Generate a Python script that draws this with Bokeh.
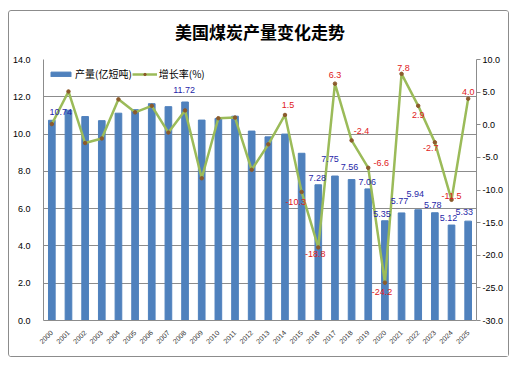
import math
from bokeh.plotting import figure
from bokeh.models import (Range1d, LinearAxis, FactorRange, ColumnDataSource, Legend,
                          LegendItem, SingleIntervalTicker, NumeralTickFormatter, Title)
from bokeh.core.properties import value
from bokeh.embed import file_html
from bokeh.resources import INLINE

years = [str(y) for y in range(2000, 2026)]
production = [10.74, 11.28, 10.94, 10.72, 11.12, 11.31, 11.63, 11.47, 11.72, 10.75,
              10.84, 10.96, 10.16, 9.85, 10.00, 8.97, 7.28, 7.75, 7.56, 7.06,
              5.35, 5.77, 5.94, 5.78, 5.12, 5.33]
growth = [0.1, 5.1, -2.8, -2.1, 3.9, 1.9, 2.9, -1.2, 2.2, -8.2,
          1.0, 1.1, -6.9, -3.0, 1.5, -10.3, -18.8, 6.3, -2.4, -6.6,
          -24.2, 7.8, 2.9, -2.7, -11.5, 4.0]
title_text = "美国煤炭产量变化走势"

# labelled points
prod_label_years = ["2000", "2008", "2016", "2017", "2018", "2019", "2020", "2021", "2022", "2023", "2024", "2025"]
growth_label_years = ["2014", "2015", "2016", "2017", "2018", "2019", "2020", "2021", "2022", "2023", "2024", "2025"]

# label placement offsets (screen px)
prod_dx = [9, -1, -1, -5, -2, -1, -3, -2, -3, -2, -3, -4]
prod_dy = [-8, -12.5, -7, -17.5, -13, -6.5, -7, -12, -16, -8, -7, -9]
growth_dx = [3, -6, -3, 0, 10, 13, -3, 2, 0, -4, 0, 0]
growth_dy = [-10, 10, 7, -9, -9, -5, 9, -6, 9, 6, -4, -7]

p = figure(x_range=FactorRange(*years, range_padding=0), y_range=Range1d(0, 14),
           frame_width=433, frame_height=261,
           min_border_left=31, min_border_right=32, min_border_top=48, min_border_bottom=36,
           output_backend="svg", toolbar_location=None, tools="")
p.margin = (10, 0, 0, 8)
p.styles = {"border": "1px solid #8c8c8c", "border-radius": "3px"}
p.outline_line_color = None
p.background_fill_color = "white"

p.title.text = title_text
p.title.align = "center"
p.title.offset = 3
p.title.text_font = "Noto Sans CJK SC"
p.title.text_font_size = "17px"
p.title.text_font_style = "bold"
p.title.text_color = "black"
# spacer between the frame and the title
p.add_layout(Title(text=" ", text_font_size="8px", standoff=0), "above")

p.extra_y_ranges = {"rate": Range1d(-30, 10)}

src = ColumnDataSource(dict(year=years, prod=production, rate=growth))
bars = p.vbar(x="year", top="prod", width=0.4, source=src, color="#4F81BD")
line = p.line(x="year", y="rate", source=src, y_range_name="rate",
              line_color="#9BBB59", line_width=2.5)
pts = p.scatter(x="year", y="rate", source=src, y_range_name="rate",
                size=3.5, marker="circle", fill_color="#8B5A2B", line_color="#8B5A2B")

# data labels
pl_vals = [production[years.index(y)] for y in prod_label_years]
gl_vals = [growth[years.index(y)] for y in growth_label_years]
p.text(x=prod_label_years, y=pl_vals, text=["%.2f" % v for v in pl_vals],
       x_offset=prod_dx, y_offset=prod_dy, text_align="center", text_baseline="middle",
       text_font=value("Liberation Sans"), text_font_size="9px", text_color="#1F1FA8")
p.text(x=growth_label_years, y=gl_vals, text=["%.1f" % v for v in gl_vals],
       x_offset=growth_dx, y_offset=growth_dy, text_align="center", text_baseline="middle",
       text_font=value("Liberation Sans"), text_font_size="9px", text_color="#E0201B",
       y_range_name="rate")

# axes
left = p.yaxis[0]
left.ticker = SingleIntervalTicker(interval=2)
left.formatter = NumeralTickFormatter(format="0.0")
left.axis_line_color = "#8c8c8c"
left.major_tick_line_color = None
left.minor_tick_line_color = None
left.major_label_standoff = 7
left.major_label_text_font = "Liberation Sans"
left.major_label_text_font_size = "9px"
left.major_label_text_color = "black"

right = LinearAxis(y_range_name="rate", ticker=SingleIntervalTicker(interval=5),
                   formatter=NumeralTickFormatter(format="0.0"))
right.axis_line_color = "#8c8c8c"
right.major_tick_line_color = "#8c8c8c"
right.major_tick_out = 4
right.major_tick_in = 0
right.minor_tick_line_color = None
right.major_label_standoff = 2
right.major_label_text_font = "Liberation Sans"
right.major_label_text_font_size = "9px"
right.major_label_text_color = "black"
p.add_layout(right, "right")

xa = p.xaxis[0]
xa.axis_line_color = "#8c8c8c"
xa.major_tick_line_color = None
xa.minor_tick_line_color = None
xa.major_label_orientation = math.pi / 4
xa.major_label_standoff = 5
xa.major_label_text_font = "Liberation Sans"
xa.major_label_text_font_size = "7px"
xa.major_label_text_color = "#333333"

p.xgrid.grid_line_color = None
p.ygrid.grid_line_color = "#8c8c8c"
p.ygrid.ticker = left.ticker

legend = Legend(items=[LegendItem(label="产量(亿短吨)", renderers=[bars]),
                       LegendItem(label="增长率(%)", renderers=[line, pts])],
                orientation="horizontal", location=(5, 239))
legend.label_text_font = "Noto Sans CJK SC"
legend.label_text_font_size = "10px"
legend.label_text_color = "black"
legend.glyph_width = 25
legend.glyph_height = 6
legend.label_standoff = 2
legend.spacing = 0
legend.padding = 0
legend.margin = 0
legend.background_fill_alpha = 0
legend.border_line_alpha = 0
p.add_layout(legend, "center")

open("out.html", "w").write(file_html(p, INLINE))
